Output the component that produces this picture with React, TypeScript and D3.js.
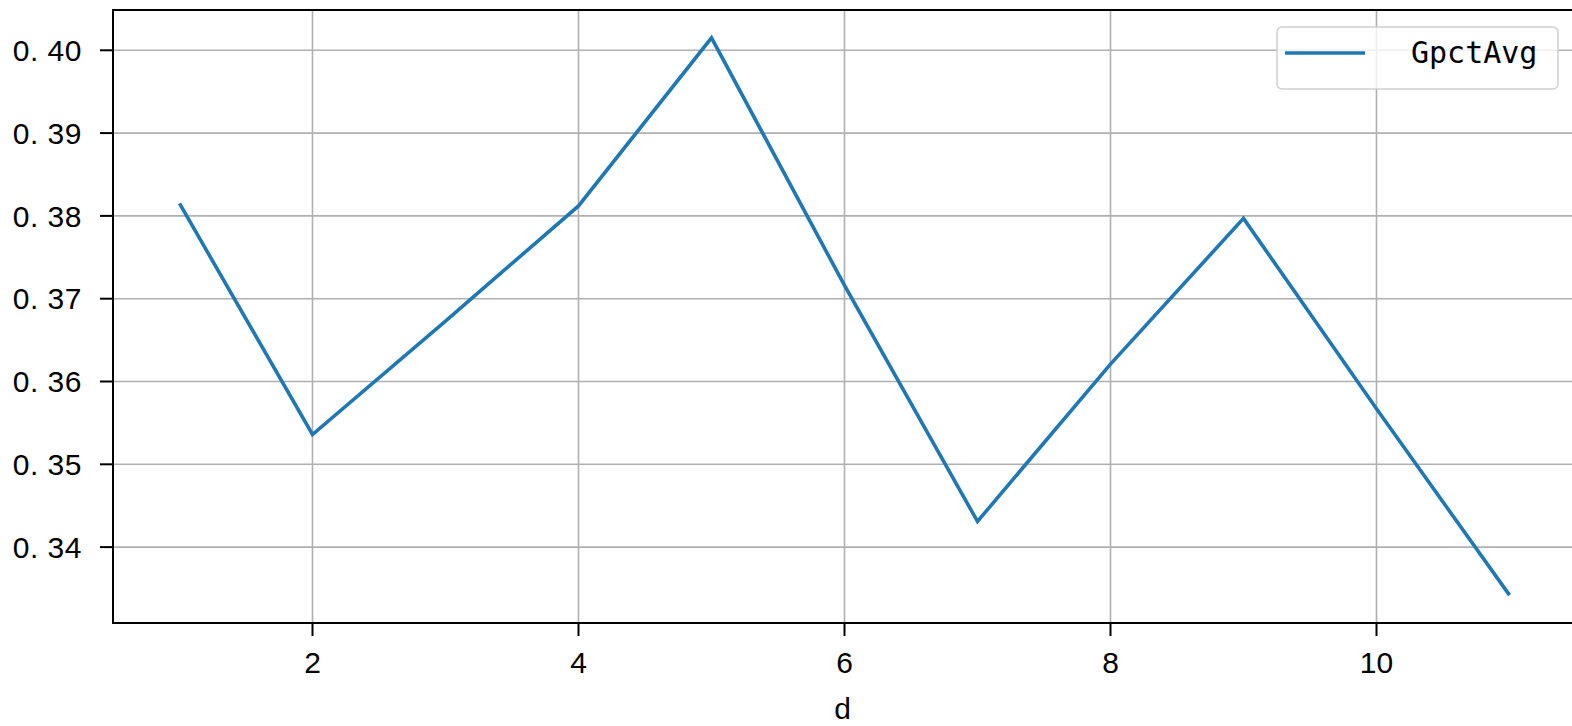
import React from 'react';
import * as d3 from 'd3';

// values
const days = [1, 2, 3, 4, 5, 6, 7, 8, 9, 10, 11];
const gpctAvg = [0.3815, 0.3536, 0.3673, 0.3812, 0.4015, 0.3716, 0.3431, 0.3621, 0.3797, 0.3567, 0.3342];
const xTicks = [2, 4, 6, 8, 10];
const yTicks = [0.34, 0.35, 0.36, 0.37, 0.38, 0.39, 0.40];
const seriesName = 'GpctAvg';
const xLabel = 'd';

export default function App() {
    const width = 1572, height = 726;
    const margin = {top: 10, left: 113, bottom: 103, right: -4};
    const plotRight = width - margin.right;
    const plotBottom = height - margin.bottom;

    // matplotlib style 5% margins
    const xExt = d3.extent(days) as [number, number];
    const yExt = d3.extent(gpctAvg) as [number, number];
    const xPad = (xExt[1] - xExt[0]) * 0.05;
    const yPad = (yExt[1] - yExt[0]) * 0.05;

    const x = d3.scaleLinear().domain([xExt[0] - xPad, xExt[1] + xPad]).range([margin.left, plotRight]);
    const y = d3.scaleLinear().domain([yExt[0] - yPad, yExt[1] + yPad]).range([plotBottom, margin.top]);

    const data = days.map((d, i) => ({d, v: gpctAvg[i]}));
    const line = d3.line<{d: number, v: number}>()
        .x(p => x(p.d))
        .y(p => y(p.v));

    const tickFont = '"Liberation Sans", Arial, sans-serif';
    const fmt = (v: number) => '0. ' + d3.format('.2f')(v).slice(2);

    return (
        <svg width={width} height={height} style={{position: 'absolute', left: 0, top: 0, background: '#fff'}}>
            <g className="grid" stroke="#b0b0b0" strokeWidth={1.6}>
                {xTicks.map(t => (
                    <line key={'gx' + t} x1={x(t)} x2={x(t)} y1={margin.top} y2={plotBottom}/>
                ))}
                {yTicks.map(t => (
                    <line key={'gy' + t} x1={margin.left} x2={plotRight} y1={y(t)} y2={y(t)}/>
                ))}
            </g>

            <path d={line(data) || ''} fill="none" stroke="#1f77b4" strokeWidth={3.6} strokeLinejoin="miter" strokeLinecap="butt"/>

            <rect x={margin.left} y={margin.top} width={plotRight - margin.left} height={plotBottom - margin.top}
                  fill="none" stroke="#000" strokeWidth={2}/>

            <g className="x-axis" fontFamily={tickFont} fontSize={30} fill="#000">
                {xTicks.map(t => (
                    <g key={'xt' + t}>
                        <line x1={x(t)} x2={x(t)} y1={plotBottom} y2={plotBottom + 13} stroke="#000" strokeWidth={2}/>
                        <text x={x(t)} y={plotBottom + 50} textAnchor="middle">{t}</text>
                    </g>
                ))}
                <text x={(margin.left + width) / 2 + 0} y={719} textAnchor="middle">{xLabel}</text>
            </g>

            <g className="y-axis" fontFamily={tickFont} fontSize={30} fill="#000">
                {yTicks.map(t => (
                    <g key={'yt' + t}>
                        <line x1={margin.left - 13} x2={margin.left} y1={y(t)} y2={y(t)} stroke="#000" strokeWidth={2}/>
                        <text x={82} y={y(t)} dy="0.36em" textAnchor="end" letterSpacing={0.5}>{fmt(t)}</text>
                    </g>
                ))}
            </g>

            <g className="legend">
                <rect x={1277} y={27} width={281} height={62} rx={5} fill="#fff" fillOpacity={0.8} stroke="#d0d0d0" strokeWidth={1.5}/>
                <line x1={1285} x2={1365} y1={53} y2={53} stroke="#1f77b4" strokeWidth={3.6}/>
                <text x={1411} y={63} fontFamily='"DejaVu Sans Mono", monospace' fontSize={30} fill="#000">{seriesName}</text>
            </g>
        </svg>
    );
}
